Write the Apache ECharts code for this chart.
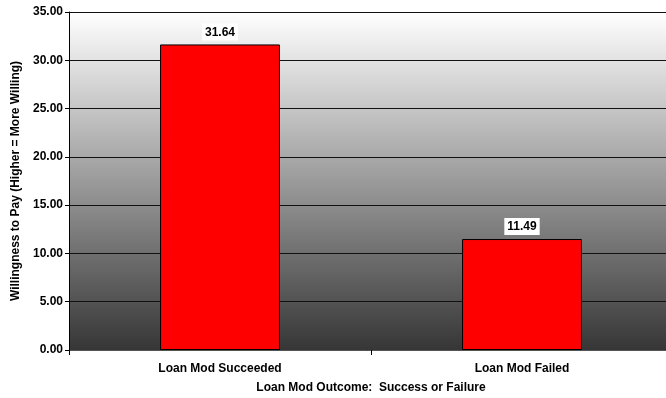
<!DOCTYPE html>
<html><head><meta charset="utf-8">
<script src="https://cdn.jsdelivr.net/npm/echarts@6/dist/echarts.min.js"></script>
<style>html,body{margin:0;padding:0;background:#fff}#c{width:666px;height:398px}</style>
</head><body><div id="c"></div>
<script>
const categories = ["Loan Mod Succeeded", "Loan Mod Failed"];
const values = [31.64, 11.49];
const yTicks = [0, 35, 5];
const yTitle = "Willingness to Pay (Higher = More Willing)";
const xTitle = "Loan Mod Outcome:  Success or Failure";

const font = "Liberation Sans, Arial, sans-serif";
const chart = echarts.init(document.getElementById('c'), null, {renderer: 'canvas'});
chart.setOption({
  animation: false,
  grid: {
    left: 69, top: 12, right: -7, bottom: 48, show: true, borderWidth: 0,
    outerBoundsMode: 'none',
    backgroundColor: new echarts.graphic.LinearGradient(0, 0, 0, 1, [
      {offset: 0, color: '#ffffff'}, {offset: 1, color: '#363636'}
    ])
  },
  xAxis: {
    type: 'category', data: categories,
    axisLine: {lineStyle: {color: '#555', width: 1}},
    axisTick: {show: true, length: 5, lineStyle: {color: '#000'}},
    axisLabel: {color: '#000', fontFamily: font, fontWeight: 'bold', fontSize: 12, margin: 13},
    name: xTitle, nameLocation: 'middle', nameGap: 32,
    nameTextStyle: {color: '#000', fontFamily: font, fontWeight: 'bold', fontSize: 12}
  },
  yAxis: {
    type: 'value', min: yTicks[0], max: yTicks[1], interval: yTicks[2],
    axisLine: {show: true, lineStyle: {color: '#000'}},
    axisTick: {show: true, length: 4, lineStyle: {color: '#000'}},
    splitLine: {lineStyle: {color: '#111', width: 1}},
    axisLabel: {color: '#000', fontFamily: font, fontWeight: 'bold', fontSize: 12, margin: 6,
      formatter: v => v.toFixed(2)},
    name: yTitle, nameLocation: 'middle', nameGap: 47,
    nameTextStyle: {color: '#000', fontFamily: font, fontWeight: 'bold', fontSize: 12}
  },
  series: [{
    type: 'bar', data: values, barWidth: '39.7%',
    itemStyle: {color: '#ff0000', borderColor: '#000', borderWidth: 1},
    label: {show: true, position: 'top', distance: 4, formatter: p => p.value.toFixed(2),
      color: '#000', fontFamily: font, fontWeight: 'bold', fontSize: 12,
      backgroundColor: '#fff', padding: [3, 3, 2, 3]}
  }]
});
</script></body></html>
